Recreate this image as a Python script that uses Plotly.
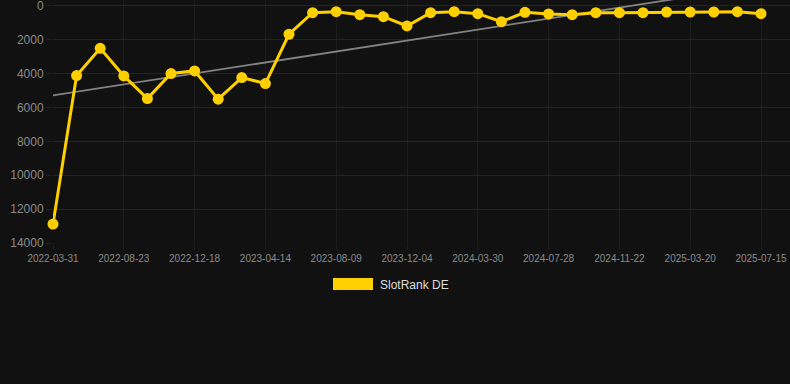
import plotly.graph_objects as go

dates = ["2022-03-31", "2022-05-18", "2022-07-05", "2022-08-23", "2022-10-01", "2022-11-09",
         "2022-12-18", "2023-01-26", "2023-03-06", "2023-04-14", "2023-05-23", "2023-07-01",
         "2023-08-09", "2023-09-17", "2023-10-26", "2023-12-04", "2024-01-12", "2024-02-20",
         "2024-03-30", "2024-05-08", "2024-06-19", "2024-07-28", "2024-09-05", "2024-10-14",
         "2024-11-22", "2024-12-31", "2025-02-09", "2025-03-20", "2025-04-28", "2025-06-06",
         "2025-07-15"]
rank = [12880, 4110, 2500, 4130, 5470, 3990, 3835, 5505, 4230, 4580, 1670, 395, 335, 513, 630,
        1180, 395, 335, 453, 925, 375, 470, 513, 395, 395, 395, 355, 355, 355, 335, 453]
trend_start = 5280
trend_end = -1200
tick_labels = dates[::3]

idx = list(range(len(dates)))

fig = go.Figure()
fig.add_trace(go.Scatter(
    x=[0, len(dates) - 1], y=[trend_start, trend_end], mode="lines",
    line=dict(color="rgba(150,150,150,0.85)", width=1.8),
    hoverinfo="skip", showlegend=False))
fig.add_trace(go.Scatter(
    x=idx, y=rank, mode="lines+markers", name="SlotRank DE",
    line=dict(color="#FFD000", width=3),
    marker=dict(color="#FFD000", size=11),
    cliponaxis=False, showlegend=False,
    customdata=dates, hovertemplate="%{customdata}: %{y}<extra></extra>"))

grid = "#232323"
fig.update_layout(
    width=790, height=384,
    paper_bgcolor="#111111", plot_bgcolor="#111111",
    margin=dict(l=53, r=0, t=0, b=141),
    font=dict(family="Arial, Liberation Sans, sans-serif"),
    showlegend=False,
)
fig.update_xaxes(
    range=[0, 737 / 23.6],
    tickmode="array", tickvals=idx[::3], ticktext=tick_labels,
    tickfont=dict(size=10, color="#8a8a8a"),
    showgrid=True, gridcolor="#1c1c1c", gridwidth=1,
    ticks="outside", ticklen=6, tickcolor="#1c1c1c",
    zeroline=False, showline=False,
)
fig.update_yaxes(
    range=[14000, -354],
    tickmode="array", tickvals=[0, 2000, 4000, 6000, 8000, 10000, 12000, 14000],
    ticktext=["0", "2000", "4000", "6000", "8000", "10000", "12000", "14000"],
    tickfont=dict(size=12, color="#8a8a8a"),
    showgrid=True, gridcolor=grid, gridwidth=1,
    ticks="outside", ticklen=6, tickcolor=grid,
    zeroline=False, showline=False,
    ticklabeloverflow="allow",
)

# legend drawn as swatch + text
fig.add_shape(type="rect", xref="paper", yref="paper",
              x0=(333 - 53) / 737, x1=(373 - 53) / 737,
              y0=1 - 290 / 243, y1=1 - 278 / 243,
              fillcolor="#FFD000", line=dict(width=0))
fig.add_annotation(xref="paper", yref="paper", x=(378 - 53) / 737, y=1 - 284.5 / 243,
                   text="SlotRank DE", showarrow=False, xanchor="left", yanchor="middle",
                   font=dict(size=12, color="#dddddd"))

fig.write_html("out.html", config={"displayModeBar": False})

with open("out.html", "r", encoding="utf-8") as f:
    html = f.read()
html = html.replace("<head>", "<head><style>html,body{margin:0;padding:0;background:#111111;overflow:hidden;}</style>", 1)
with open("out.html", "w", encoding="utf-8") as f:
    f.write(html)
